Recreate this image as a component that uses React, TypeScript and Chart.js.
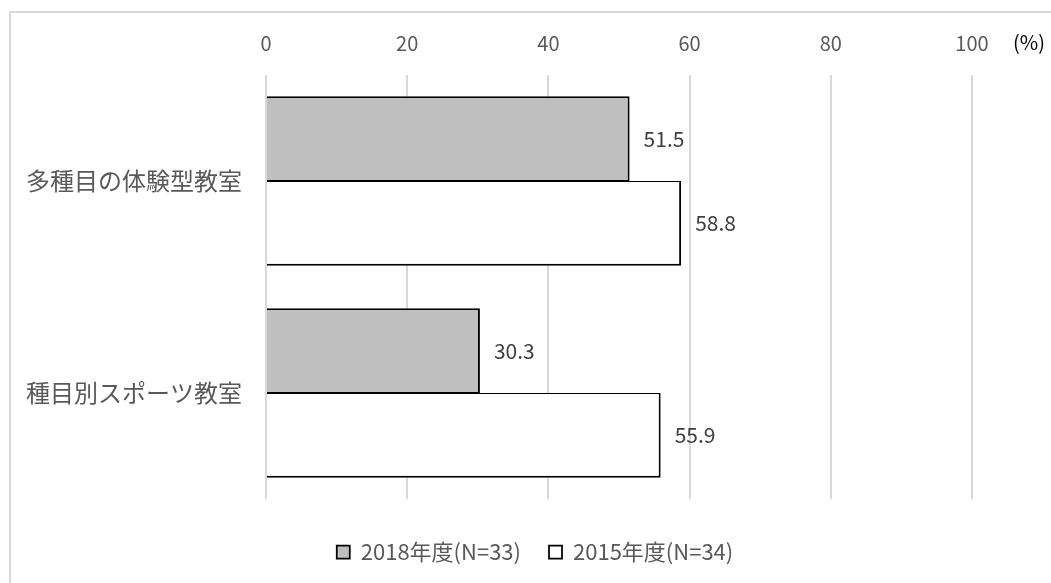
import React, { useEffect, useRef } from "react";
import { Chart, registerables } from "chart.js";

Chart.register(...registerables);

const categories = ["多種目の体験型教室", "種目別スポーツ教室"];
const seriesNames = ["2018年度(N=33)", "2015年度(N=34)"];
const values2018 = [51.5, 30.3];
const values2015 = [58.8, 55.9];
const xTicks = [0, 20, 40, 60, 80, 100];
const unitLabel = "(%)";

const FONT = "'Noto Sans CJK JP', 'Noto Sans', sans-serif";

// Value labels to the right of each bar
const valueLabels = {
  id: "valueLabels",
  afterDatasetsDraw(chart: any) {
    const ctx = chart.ctx;
    ctx.save();
    ctx.font = `21px ${FONT}`;
    ctx.fillStyle = "#404040";
    ctx.textAlign = "left";
    ctx.textBaseline = "middle";
    chart.data.datasets.forEach((ds: any, i: number) => {
      const meta = chart.getDatasetMeta(i);
      meta.data.forEach((el: any, j: number) => {
        ctx.fillText(Number(ds.data[j]).toFixed(1), el.x + 14, el.y);
      });
    });
    ctx.restore();
  },
};

// Unit marker beside the top axis
const unitText = {
  id: "unitText",
  afterDraw(chart: any) {
    const ctx = chart.ctx;
    const { right } = chart.chartArea;
    ctx.save();
    ctx.font = `20px ${FONT}`;
    ctx.fillStyle = "#000000";
    ctx.textAlign = "left";
    ctx.textBaseline = "middle";
    ctx.fillText(unitLabel, right + 41, 42);
    ctx.restore();
  },
};

// Centre the legend row on the whole frame rather than on the padded box
const legendShift = {
  id: "legendShift",
  afterLayout(chart: any) {
    const lg = chart.legend;
    if (!lg) return;
    const shift = 49;
    lg.left += shift;
    lg.right += shift;
  },
};

export default function App() {
  const canvasRef = useRef<HTMLCanvasElement | null>(null);

  useEffect(() => {
    if (!canvasRef.current) return;
    const chart = new Chart(canvasRef.current, {
      type: "bar",
      data: {
        labels: categories,
        datasets: [
          {
            label: seriesNames[0],
            data: values2018,
            backgroundColor: "#bfbfbf",
            borderColor: "#000000",
            borderWidth: { top: 2, right: 2, bottom: 1, left: 2 },
            categoryPercentage: 0.8,
            barPercentage: 1.0,
          },
          {
            label: seriesNames[1],
            data: values2015,
            backgroundColor: "#ffffff",
            borderColor: "#000000",
            borderWidth: { top: 1, right: 2, bottom: 2, left: 2 },
            categoryPercentage: 0.8,
            barPercentage: 1.0,
          },
        ],
      },
      options: {
        indexAxis: "y",
        responsive: false,
        animation: false,
        layout: { padding: { left: 0, right: 79, top: 0, bottom: 10 } },
        scales: {
          x: {
            position: "top",
            min: 0,
            max: 100,
            afterBuildTicks(scale: any) {
              scale.ticks = xTicks.map((v) => ({ value: v }));
            },
            afterFit(scale: any) {
              scale.height = 75;
            },
            grid: { color: "#d9d9d9", lineWidth: 2, drawTicks: false },
            border: { display: false },
            ticks: {
              color: "#595959",
              font: { family: FONT, size: 20 },
              padding: 20,
            },
          },
          y: {
            afterFit(scale: any) {
              scale.width = 266;
            },
            grid: { display: false },
            border: { display: false },
            ticks: {
              color: "#595959",
              font: { family: FONT, size: 24 },
              padding: 16,
            },
          },
        },
        plugins: {
          legend: {
            position: "bottom",
            title: {
              display: true,
              text: " ",
              font: { family: FONT, size: 10 },
              padding: { top: 0, bottom: 2 },
            },
            labels: {
              color: "#595959",
              font: { family: FONT, size: 22 },
              boxWidth: 13,
              boxHeight: 13,
              padding: 28,
            },
          },
          tooltip: { enabled: false },
        },
      },
      plugins: [valueLabels, unitText, legendShift],
    });
    return () => chart.destroy();
  }, []);

  return (
    <div
      style={{
        position: "fixed",
        left: 0,
        top: 0,
        width: 1051,
        height: 583,
        overflow: "hidden",
        background: "#ffffff",
      }}
    >
      <div
        style={{
          position: "absolute",
          left: 9,
          top: 11,
          width: 1200,
          height: 700,
          border: "2px solid #d9d9d9",
        }}
      />
      <canvas
        ref={canvasRef}
        width={1051}
        height={583}
        style={{ position: "absolute", left: 0, top: 0, width: 1051, height: 583 }}
      />
    </div>
  );
}
